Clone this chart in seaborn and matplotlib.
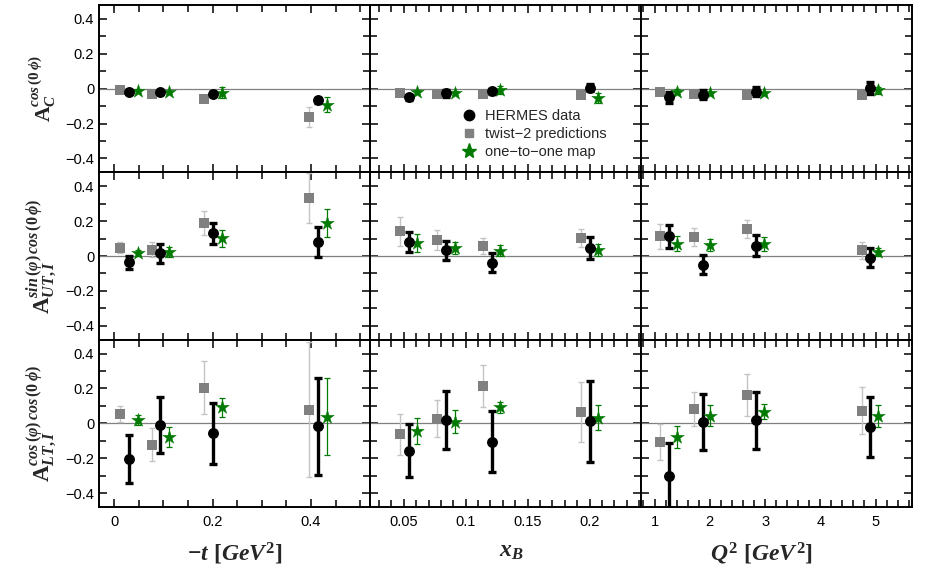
import numpy as np
import pandas as pd
import matplotlib
matplotlib.use("Agg")
import matplotlib.pyplot as plt
from matplotlib.ticker import MultipleLocator, FuncFormatter
from matplotlib.lines import Line2D
import seaborn as sns

sns.set_theme(style="ticks")
plt.rcParams['font.family'] = ['Liberation Sans', 'DejaVu Sans']
plt.rcParams['mathtext.fontset'] = 'custom'
plt.rcParams['mathtext.it'] = 'Liberation Serif:bold:italic'
plt.rcParams['mathtext.rm'] = 'Liberation Serif:bold'
plt.rcParams['mathtext.bf'] = 'Liberation Serif:bold'

# ---------------- data ----------------
# x positions (kinematic bins), per column
t_data = [0.030, 0.094, 0.200, 0.414]
t_pred = [0.012, 0.076, 0.183, 0.396]
t_map = [0.048, 0.112, 0.219, 0.432]
xb_data = [0.054, 0.084, 0.121, 0.200]
xb_pred = [0.047, 0.077, 0.114, 0.193]
xb_map = [0.061, 0.091, 0.128, 0.207]
q2_data = [1.26, 1.87, 2.83, 4.90]
q2_pred = [1.10, 1.72, 2.68, 4.75]
q2_map = [1.41, 2.01, 2.98, 5.05]

# Row 1: A_C cos(0 phi)
ac_t_data = [-0.017, -0.021, -0.031, -0.066]; ac_t_data_err = [0.010, 0.010, 0.012, 0.015]
ac_t_pred = [-0.010, -0.030, -0.060, -0.162]; ac_t_pred_err = [0.008, 0.008, 0.012, 0.057]
ac_t_map = [-0.012, -0.021, -0.023, -0.091]; ac_t_map_err = [0.010, 0.010, 0.033, 0.045]
ac_xb_data = [-0.050, -0.025, -0.015, 0.006]; ac_xb_data_err = [0.015, 0.020, 0.015, 0.018]
ac_xb_pred = [-0.025, -0.029, -0.029, -0.037]; ac_xb_pred_err = [0.008, 0.008, 0.008, 0.008]
ac_xb_map = [-0.017, -0.023, -0.008, -0.052]; ac_xb_map_err = [0.012, 0.012, 0.022, 0.030]
ac_q2_data = [-0.050, -0.035, -0.017, 0.006]; ac_q2_data_err = [0.030, 0.025, 0.025, 0.035]
ac_q2_pred = [-0.021, -0.031, -0.037, -0.037]; ac_q2_pred_err = [0.015, 0.008, 0.008, 0.008]
ac_q2_map = [-0.017, -0.027, -0.027, -0.010]; ac_q2_map_err = [0.015, 0.010, 0.010, 0.020]

# Row 2: A_UT,I sin(phi) cos(0 phi)
aut_t_data = [-0.037, 0.015, 0.131, 0.081]; aut_t_data_err = [0.036, 0.053, 0.060, 0.088]
aut_t_pred = [0.048, 0.037, 0.191, 0.334]; aut_t_pred_err = [0.030, 0.042, 0.068, 0.145]
aut_t_map = [0.017, 0.023, 0.102, 0.189]; aut_t_map_err = [0.015, 0.029, 0.048, 0.080]
aut_xb_data = [0.081, 0.033, -0.039, 0.044]; aut_xb_data_err = [0.058, 0.055, 0.054, 0.063]
aut_xb_pred = [0.141, 0.093, 0.056, 0.102]; aut_xb_pred_err = [0.085, 0.058, 0.045, 0.052]
aut_xb_map = [0.075, 0.046, 0.031, 0.035]; aut_xb_map_err = [0.050, 0.033, 0.030, 0.035]
aut_q2_data = [0.114, -0.050, 0.060, -0.010]; aut_q2_data_err = [0.066, 0.056, 0.060, 0.055]
aut_q2_pred = [0.114, 0.108, 0.157, 0.033]; aut_q2_pred_err = [0.072, 0.053, 0.051, 0.048]
aut_q2_map = [0.071, 0.062, 0.071, 0.023]; aut_q2_map_err = [0.044, 0.036, 0.040, 0.024]

# Row 3: A_LT,I cos(phi) cos(0 phi)
alt_t_data = [-0.205, -0.008, -0.058, -0.017]; alt_t_data_err = [0.137, 0.160, 0.177, 0.278]
alt_t_pred = [0.054, -0.122, 0.203, 0.077]; alt_t_pred_err = [0.045, 0.095, 0.152, 0.387]
alt_t_map = [0.019, -0.077, 0.091, 0.039]; alt_t_map_err = [0.030, 0.058, 0.054, 0.222]
alt_xb_data = [-0.157, 0.019, -0.106, 0.012]; alt_xb_data_err = [0.151, 0.164, 0.174, 0.232]
alt_xb_pred = [-0.064, 0.027, 0.213, 0.064]; alt_xb_pred_err = [0.119, 0.108, 0.121, 0.173]
alt_xb_map = [-0.044, 0.010, 0.091, 0.033]; alt_xb_map_err = [0.074, 0.065, 0.031, 0.074]
alt_q2_data = [-0.303, 0.006, 0.017, -0.023]; alt_q2_data_err = [0.190, 0.160, 0.165, 0.173]
alt_q2_pred = [-0.106, 0.083, 0.164, 0.073]; alt_q2_pred_err = [0.103, 0.099, 0.120, 0.134]
alt_q2_map = [-0.077, 0.044, 0.066, 0.043]; alt_q2_map_err = [0.063, 0.060, 0.043, 0.064]

row_labels = [r'$\mathrm{A}_{C}^{cos\,(0\,\phi)}$',
              r'$\mathrm{A}_{UT,I}^{sin\,(\varphi)\,cos\,(0\,\phi)}$',
              r'$\mathrm{A}_{LT,I}^{cos\,(\varphi)\,cos\,(0\,\phi)}$']
col_labels = [r'$-t\ [GeV^{2}]$', r'$x_{B}$', r'$Q^{2}\ [GeV^{2}]$']
legend_labels = ['HERMES data', 'twist\u22122 predictions', 'one\u2212to\u2212one map']

xpos = [(t_data, t_pred, t_map), (xb_data, xb_pred, xb_map), (q2_data, q2_pred, q2_map)]
vals = [
    [(ac_t_data, ac_t_data_err, ac_t_pred, ac_t_pred_err, ac_t_map, ac_t_map_err),
     (ac_xb_data, ac_xb_data_err, ac_xb_pred, ac_xb_pred_err, ac_xb_map, ac_xb_map_err),
     (ac_q2_data, ac_q2_data_err, ac_q2_pred, ac_q2_pred_err, ac_q2_map, ac_q2_map_err)],
    [(aut_t_data, aut_t_data_err, aut_t_pred, aut_t_pred_err, aut_t_map, aut_t_map_err),
     (aut_xb_data, aut_xb_data_err, aut_xb_pred, aut_xb_pred_err, aut_xb_map, aut_xb_map_err),
     (aut_q2_data, aut_q2_data_err, aut_q2_pred, aut_q2_pred_err, aut_q2_map, aut_q2_map_err)],
    [(alt_t_data, alt_t_data_err, alt_t_pred, alt_t_pred_err, alt_t_map, alt_t_map_err),
     (alt_xb_data, alt_xb_data_err, alt_xb_pred, alt_xb_pred_err, alt_xb_map, alt_xb_map_err),
     (alt_q2_data, alt_q2_data_err, alt_q2_pred, alt_q2_pred_err, alt_q2_map, alt_q2_map_err)],
]

xlims = [(-0.031, 0.52), (0.0228, 0.2414), (0.755, 5.66)]
GREEN = '#007a00'
GRAY = '#808080'
LGRAY = '#c4c4c4'

fig, axes = plt.subplots(3, 3, figsize=(9.26, 5.74), dpi=100)
fig.subplots_adjust(left=99/926, right=912/926, top=1-5/574, bottom=1-507/574,
                    wspace=0, hspace=0)

def tfmt(v, pos):
    if abs(v - round(v / 0.2) * 0.2) < 1e-6:
        s = f'{v:.1f}'
        if abs(v) < 1e-9:
            s = '0'
        return s.replace('-', '\u2212')
    return ''

for r in range(3):
    for c in range(3):
        ax = axes[r, c]
        xd, xp, xm = xpos[c]
        yd, ed, yp, ep, ym, em = vals[r][c]
        ax.axhline(0, color=GRAY, lw=0.9, zorder=1)
        # error bars
        ax.errorbar(xp, yp, yerr=ep, fmt='none', ecolor=LGRAY, elinewidth=1.0,
                    capsize=2.2, capthick=1.0, zorder=2)
        ax.errorbar(xm, ym, yerr=em, fmt='none', ecolor=GREEN, elinewidth=0.9,
                    capsize=2.2, capthick=0.9, zorder=2)
        ax.errorbar(xd, yd, yerr=ed, fmt='none', ecolor='black', elinewidth=2.4,
                    capsize=3.2, capthick=2.4, zorder=3)
        # markers
        sns.scatterplot(x=xp, y=yp, ax=ax, marker='s', s=42, color=GRAY,
                        edgecolor=GRAY, linewidth=0, zorder=4, legend=False)
        sns.scatterplot(x=xm, y=ym, ax=ax, marker='*', s=105, color=GREEN,
                        edgecolor=GREEN, linewidth=0.3, zorder=4, legend=False)
        sns.scatterplot(x=xd, y=yd, ax=ax, marker='o', s=62, color='black',
                        edgecolor='black', linewidth=0, zorder=5, legend=False)

        ax.set_xlim(*xlims[c])
        ax.set_ylim(-0.48, 0.48)
        ax.yaxis.set_major_locator(MultipleLocator(0.2))
        ax.yaxis.set_minor_locator(MultipleLocator(0.1))
        ax.yaxis.set_major_formatter(FuncFormatter(tfmt))
        if c == 0:
            ax.xaxis.set_major_locator(MultipleLocator(0.2))
            ax.xaxis.set_minor_locator(MultipleLocator(0.05))
            ax.xaxis.set_major_formatter(FuncFormatter(
                lambda v, p: '0' if abs(v) < 1e-9 else f'{v:.1f}'))
        elif c == 1:
            ax.xaxis.set_major_locator(MultipleLocator(0.05))
            ax.xaxis.set_minor_locator(MultipleLocator(0.01))
            ax.xaxis.set_major_formatter(FuncFormatter(
                lambda v, p: (f'{v:.2f}'.rstrip('0') if abs(v) > 1e-9 else '0')))
        else:
            ax.xaxis.set_major_locator(MultipleLocator(1))
            ax.xaxis.set_minor_locator(MultipleLocator(0.2))
            ax.xaxis.set_major_formatter(FuncFormatter(lambda v, p: f'{v:.0f}'))
        ax.tick_params(which='both', direction='in', top=True, right=True,
                       bottom=True, left=True, colors='black', labelsize=10.5,
                       width=1.1)
        ax.tick_params(which='major', length=6)
        ax.tick_params(which='minor', length=5)
        ax.tick_params(axis='x', pad=6)
        if c != 0:
            ax.tick_params(labelleft=False)
        if r != 2:
            ax.tick_params(labelbottom=False)
        for sp in ax.spines.values():
            sp.set_linewidth(1.4)
            sp.set_color('black')
        ax.set_xlabel('')
        ax.set_ylabel('')
        if c == 0:
            ax.set_ylabel(row_labels[r], fontsize=16.5 if r > 0 else 15.5, labelpad=5)
        if r == 2:
            ax.set_xlabel(col_labels[c], fontsize=17, labelpad=7)

axes[2, 2].xaxis.set_label_coords(0.445, -0.2)
axes[2, 0].xaxis.set_label_coords(0.5, -0.2)
axes[2, 1].xaxis.set_label_coords(0.52, -0.2)

handles = [Line2D([], [], ls='none', marker='o', ms=7.5, color='black'),
           Line2D([], [], ls='none', marker='s', ms=6, color=GRAY),
           Line2D([], [], ls='none', marker='*', ms=11, color=GREEN)]
axes[0, 1].legend(handles, legend_labels, loc='upper left',
                  bbox_to_anchor=(0.34, 0.38), frameon=False, fontsize=10.5,
                  handlelength=1.0, handletextpad=0.6, labelspacing=0.3,
                  borderpad=0, borderaxespad=0)

fig.savefig('out.png', dpi=100)
